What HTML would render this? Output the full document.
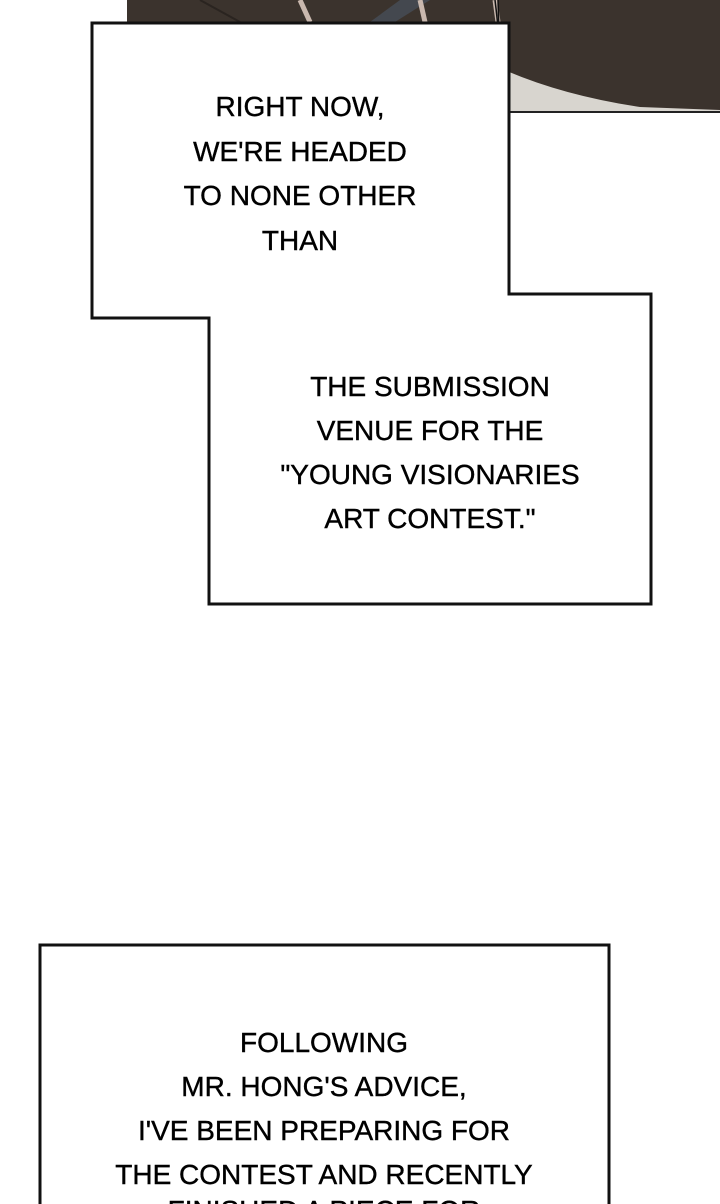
<!DOCTYPE html>
<html><head><meta charset="utf-8"><style>
html,body{margin:0;padding:0;background:#fff;width:720px;height:1204px;overflow:hidden}
text{font-family:"Liberation Sans",sans-serif;font-size:28px;fill:#000;text-anchor:middle;stroke:#000;stroke-width:0.4}
</style></head><body>
<svg width="720" height="1204" viewBox="0 0 720 1204" xmlns="http://www.w3.org/2000/svg">
<rect x="127" y="0" width="593" height="113" fill="#3b332d"/>
<path d="M200 0 L240 22" stroke="#2a2420" stroke-width="2" fill="none"/>
<path d="M300 0 L310 22" stroke="#c9b8ae" stroke-width="5" fill="none"/>
<path d="M370 22 L400 0 L430 0 L395 22Z" fill="#44484f"/>
<path d="M420 0 L425 22" stroke="#c9b8ae" stroke-width="5" fill="none"/>
<path d="M495 0 L498 22" stroke="#c9b8ae" stroke-width="5" fill="none"/>
<path d="M495 0 Q500 40 500 70" stroke="#111" stroke-width="1.5" fill="none"/>
<path d="M498 0 Q500 60 500 112" stroke="#111" stroke-width="1.5" fill="none"/>
<path d="M500 68 Q560 95 640 107 L720 110 L720 113 L505 113Z" fill="#d8d5cf"/>
<rect x="127" y="111" width="593" height="2" fill="#222"/>
<path d="M92 23 H509 V294 H651 V604 H209 V318 H92 Z" fill="#fff" stroke="#111" stroke-width="3"/>
<text x="300" y="116">RIGHT NOW,</text>
<text x="300" y="161">WE'RE HEADED</text>
<text x="300" y="205">TO NONE OTHER</text>
<text x="300" y="250">THAN</text>
<text x="430" y="396">THE SUBMISSION</text>
<text x="430" y="440">VENUE FOR THE</text>
<text x="430" y="484">"YOUNG VISIONARIES</text>
<text x="430" y="528">ART CONTEST."</text>
<path d="M40 945 H609 V1210 H40 Z" fill="#fff" stroke="#111" stroke-width="3"/>
<text x="324" y="1052">FOLLOWING</text>
<text x="324" y="1096">MR. HONG'S ADVICE,</text>
<text x="324" y="1140">I'VE BEEN PREPARING FOR</text>
<text x="324" y="1184">THE CONTEST AND RECENTLY</text>
<text x="324" y="1220">FINISHED A PIECE FOR</text>
</svg>
</body></html>
